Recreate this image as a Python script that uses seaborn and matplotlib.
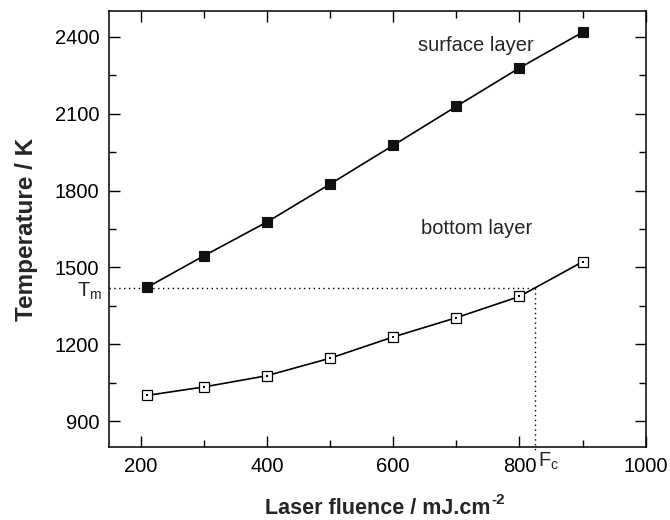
import matplotlib
matplotlib.use("Agg")
import matplotlib.pyplot as plt
import seaborn as sns
from matplotlib.ticker import MultipleLocator

# Data
fluence = [210, 300, 400, 500, 600, 700, 800, 900]
surface_temp = [1422, 1545, 1677, 1825, 1976, 2128, 2278, 2417]
bottom_temp = [1001, 1034, 1078, 1146, 1229, 1304, 1387, 1522]
t_melt = 1421
f_crit = 825

sns.set_style("ticks")
plt.rcParams['font.family'] = ['Liberation Sans', 'DejaVu Sans']
plt.rcParams['mathtext.fontset'] = 'custom'
plt.rcParams['mathtext.rm'] = 'Liberation Sans'

fig = plt.figure(figsize=(6.7, 5.2), dpi=100)
ax = fig.add_axes([0.1627, 0.1404, 0.801, 0.8384])

# melting temperature / critical fluence guides
ax.plot([150, f_crit], [t_melt, t_melt], color='black', lw=1, ls=(0, (1, 2.5)))
ax.plot([f_crit, f_crit], [t_melt, 790], color='black', lw=1, ls=(0, (1, 2.5)), clip_on=False)

sns.lineplot(x=fluence, y=surface_temp, ax=ax, color='black', lw=1.2,
             marker='s', markersize=7.5, markerfacecolor='#111111',
             markeredgecolor='#111111', markeredgewidth=0.8)
sns.lineplot(x=fluence, y=bottom_temp, ax=ax, color='black', lw=1.2,
             marker='s', markersize=7, markerfacecolor='white',
             markeredgecolor='black', markeredgewidth=0.9)
sns.scatterplot(x=fluence, y=bottom_temp, ax=ax, color='black', s=1.5,
                marker='s', linewidth=0, zorder=5)

ax.set_xlim(150, 1000)
ax.set_ylim(800, 2500)
ax.xaxis.set_major_locator(MultipleLocator(200))
ax.xaxis.set_minor_locator(MultipleLocator(100))
ax.yaxis.set_major_locator(MultipleLocator(300))
ax.yaxis.set_minor_locator(MultipleLocator(150))
ax.set_yticks([900, 1200, 1500, 1800, 2100, 2400])

ax.tick_params(which='both', direction='in', top=True, right=True, width=1,
               labelsize=14.5, colors='black', pad=7)
ax.tick_params(which='major', length=8)
ax.tick_params(which='minor', length=5)
for s in ax.spines.values():
    s.set_visible(True)
    s.set_linewidth(1.1)
    s.set_color('black')

ax.set_xlabel('Laser fluence / mJ.cm', fontsize=15.5, fontweight='bold', labelpad=16)
ax.set_ylabel('Temperature / K', fontsize=17.5, fontweight='bold', labelpad=12)

ax.text(731, 2365, 'surface layer', fontsize=14.5, ha='center', va='center')
ax.text(733, 1651, 'bottom layer', fontsize=14.5, ha='center', va='center')
ax.text(139, 1408, 'T$_{\\mathrm{m}}$', fontsize=14.5, ha='right', va='center',
        clip_on=False)
ax.text(830, 745, 'F$_{\\mathrm{c}}$', fontsize=14.5, ha='left', va='center',
        clip_on=False)

# superscript with a plain hyphen, placed after the label is laid out
fig.canvas.draw()
bb = ax.xaxis.label.get_window_extent()
W, H = fig.canvas.get_width_height()
fig.text((bb.x1 + 1) / W, (bb.y1 + 5) / H, '-2', fontsize=11, fontweight='bold',
         ha='left', va='top')

fig.savefig('out.png', dpi=100)
